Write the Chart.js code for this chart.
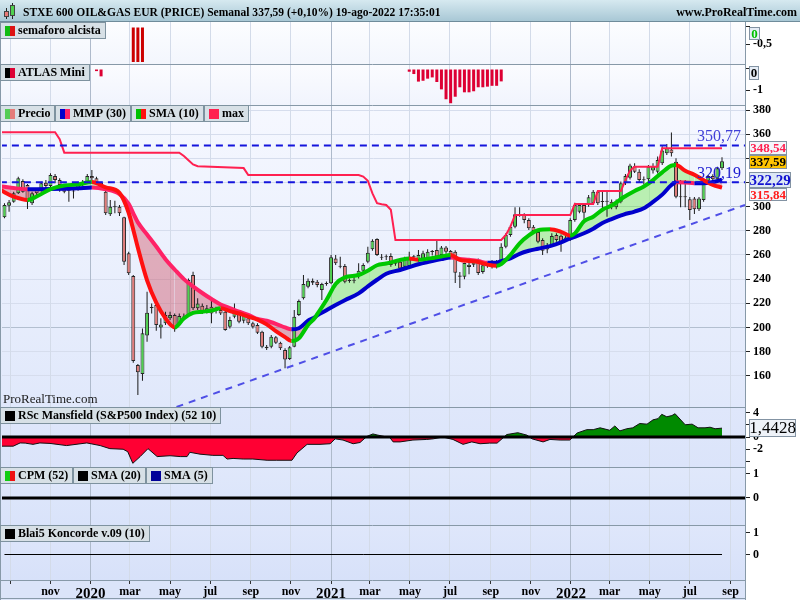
<!DOCTYPE html>
<html><head><meta charset="utf-8">
<script src="https://cdn.jsdelivr.net/npm/chart.js@4.4.1/dist/chart.umd.min.js"></script>
<style>html,body{margin:0;padding:0;background:#fff;}canvas{display:block;}</style>
</head><body>
<canvas id="c" width="800" height="600"></canvas>
<script>
// ---------- DATA (weekly candles, index 0 = week of 2019-08-23) ----------
const startDate = '2019-08-23';
const opens = [
291.2,300.9,304.2,311.1,321.3,318.0,302.8,313.8,313.8,319.9,
317.2,325.4,322.1,315.2,314.4,313.3,314.4,318.0,320.7,325.4,
323.5,319.9,312.5,293.7,299.5,300.0,291.2,261.4,242.6,168.8,
161.4,193.4,216.5,218.6,200.0,203.4,207.5,210.3,203.4,208.9,
210.3,243.4,215.8,218.0,213.0,217.2,214.4,214.4,213.0,200.6,
208.9,211.6,205.6,207.5,203.4,202.0,196.5,184.0,184.0,191.8,
187.3,181.3,173.8,184.0,210.3,224.1,233.7,238.7,237.9,231.0,
236.5,236.5,257.2,250.9,250.9,238.7,238.7,243.4,247.0,254.5,
264.7,273.2,258.1,258.1,259.2,253.1,254.5,250.3,250.9,258.1,
255.8,257.2,256.4,262.7,264.1,260.0,266.3,263.3,262.7,243.0,
242.0,250.0,252.0,255.9,246.0,251.0,254.5,250.3,254.5,266.9,
276.6,283.5,293.1,293.1,289.0,283.5,279.0,272.4,268.0,268.3,
276.6,276.0,274.6,272.5,289.0,295.9,301.4,301.4,302.8,312.5,
304.2,304.2,304.2,299.5,304.2,319.4,324.0,333.5,329.0,322.0,
322.7,330.0,329.0,336.0,344.2,347.5,337.3,308.3,307.8,306.1,
306.9,297.8,305.6,321.6,325.4,322.7,331.8];
const highs = [
302.8,305.6,312.5,324.9,322.7,318.8,312.5,315.2,320.7,322.1,
327.7,327.1,323.5,316.6,316.6,315.2,320.7,322.1,327.1,330.4,
324.9,320.7,313.3,305.6,305.0,301.4,291.7,262.7,243.4,169.7,
199.2,229.6,219.9,222.7,207.5,213.0,213.0,211.6,211.6,211.6,
240.6,246.2,224.1,219.9,218.6,222.7,217.2,215.8,214.4,208.9,
219.9,213.0,213.0,208.9,204.7,203.4,197.3,185.4,193.7,192.9,
188.2,182.7,184.6,214.4,223.2,243.4,240.6,240.6,239.3,237.1,
238.0,260.0,260.0,258.6,252.5,240.5,242.0,253.1,253.1,266.9,
273.0,273.8,260.8,260.5,261.4,255.8,255.8,258.6,262.7,260.0,
264.1,263.6,264.7,264.1,271.6,267.4,267.4,264.1,264.0,246.0,
253.5,254.0,256.0,257.0,253.0,254.0,255.8,255.8,269.7,278.0,
284.8,299.5,299.5,294.5,290.4,284.8,280.5,273.8,270.0,278.0,
278.0,277.0,276.0,290.4,303.3,302.8,302.8,309.7,313.9,313.9,
312.5,312.5,306.0,306.0,320.8,327.1,335.5,336.0,331.0,325.0,
334.6,336.0,341.5,350.0,352.0,361.4,340.1,322.1,322.1,308.0,
308.0,308.0,323.5,326.3,327.0,333.2,340.9];
const lows = [
290.4,295.9,303.3,310.5,311.6,298.1,301.4,308.3,312.5,315.2,
316.1,319.4,312.5,311.1,304.2,306.9,313.3,317.2,319.9,322.1,
318.0,313.8,293.1,292.3,294.5,292.3,251.7,243.4,170.8,144.0,
155.9,188.2,211.6,197.3,190.9,202.0,206.1,196.5,202.0,206.1,
208.9,214.4,214.4,211.1,211.6,203.4,211.6,210.3,197.3,199.2,
207.5,203.4,203.4,202.0,199.2,194.5,182.7,181.3,182.7,186.2,
181.3,166.1,173.0,183.5,209.4,223.2,232.4,235.1,233.2,222.7,
234.5,236.0,251.7,249.0,236.5,237.0,236.5,240.6,246.2,253.1,
263.6,259.2,255.8,255.8,250.3,251.0,247.6,248.9,249.8,255.8,
254.5,256.0,255.5,259.5,257.5,258.6,261.0,256.5,236.8,232.7,
240.0,244.0,250.0,243.5,244.5,249.5,248.9,248.9,253.1,265.5,
275.2,282.1,291.7,286.2,280.7,278.0,269.7,260.0,261.4,266.9,
271.0,262.7,271.0,271.5,287.6,294.5,286.2,300.0,301.4,301.4,
295.9,291.7,298.0,298.0,302.8,318.0,322.5,328.0,320.5,318.5,
321.0,327.5,327.5,334.6,342.8,341.5,307.0,299.5,299.5,289.0,
294.0,296.5,304.2,319.4,319.4,321.6,330.4];
const closes = [
301.4,303.6,311.1,323.5,312.5,304.2,311.1,311.1,319.4,317.2,
326.3,322.1,318.0,312.5,313.3,312.7,319.4,320.7,325.4,323.5,
319.4,316.6,294.5,300.0,300.3,294.5,254.5,244.8,172.1,162.8,
195.1,212.2,216.0,202.0,202.5,210.3,210.3,199.2,209.4,208.3,
239.3,215.8,219.9,213.0,215.8,211.6,213.9,211.6,197.8,206.1,
213.0,204.7,210.3,203.4,200.6,195.6,184.0,182.7,192.3,187.3,
182.7,173.5,183.5,208.9,221.9,236.0,238.7,237.1,235.1,236.0,
236.0,258.1,253.1,250.3,237.9,238.4,239.0,247.0,251.7,261.9,
271.9,260.0,257.8,258.4,251.7,252.8,248.9,255.8,256.4,258.6,
260.0,261.4,262.7,262.5,258.6,266.3,262.7,258.1,245.3,242.0,
253.4,252.0,254.0,245.0,251.5,252.5,250.3,253.6,266.9,276.6,
283.5,293.7,293.5,289.0,282.1,279.9,271.0,263.6,264.5,275.7,
272.4,270.0,272.4,289.0,301.4,301.4,295.1,307.8,312.5,302.8,
303.9,304.5,299.5,304.2,319.4,325.4,334.2,329.0,322.1,322.7,
333.2,333.2,338.7,346.5,348.54,344.2,308.3,307.8,308.1,297.3,
297.8,306.9,322.1,325.4,322.7,331.8,337.59];

// moving averages
const maIdx = [-1,0,2,5,7,10,13,16,19,22,25,27,28,29,31,33,35,37,39,41,43,45,47,49,51,53,55,57,59,61,62.4,64,66,67.5,68,70,72,74,77,79,81,83,86,88,90,92.5,95,97,99,101,103,105,107,108,110,112,114,116,118.6,121,123,124,126,128,130,132,134.6,137,139,141,143,145,146,148,150,152,154,156];
const sma10 = [314.4,312,308.3,305.6,308.5,314.5,317.5,318.5,320.5,316,311.5,295,281,266,239,220.5,207.5,200,207.5,212,213,214,215.8,213.5,211.5,209,206.5,202.5,197,192,188.7,191,202,208,211,222.7,236,241.5,243.4,247,251.5,253,255.8,257.2,256,257.2,258.8,260,256,255,254.2,252,251,252.5,260,269.7,276.3,280.5,281.3,279.2,276,277.9,288,291.7,297.5,301,307.8,313,316.8,322.1,328.5,334,334.6,329.8,326.5,322,318,315.84];
const mmp30 = [317,316.5,315.5,314.5,314.5,314.6,314.8,315.2,316,314.5,310.5,302.5,294.5,287,277,267,256.5,248,240,234,228.5,223.5,219,216,213,210.5,207,205.5,203,200,198.4,199.3,205.5,208.5,210,214.2,218.5,222.5,228.2,234,239.5,244.5,247.6,250,252.3,254.5,256.6,258,256.8,256,255,253.5,253.5,255,257.2,261,263.5,265.2,267.4,270.4,273.8,275,278,281.8,286.5,289.8,293.5,296,298.8,304,310,318,320.2,320,319.5,319.5,320.5,322.29];

// "max" line
const maxIdx = [-1,11,12,13,38,39,40,41,42,52,53,77,78,79,80,81,82,83,84,85,108,109,110,111,123,124,128,129,134,135,136,137,142,143,156];
const maxVals = [361.7,361.7,356,344.8,344.8,342,338.5,335,333.5,332,326.3,326.3,325,321.5,311,303,302,301.4,297.5,272.4,272.4,276.6,283.5,293.1,293.1,302.2,302.2,313,313,322,330,333.2,333.2,348.54,348.54];

const levels = [350.77, 320.19];
const trendIdx = [37.4, 161];
const trendVals = [134.1, 301.4];

const semaforoIdx = [28, 29, 30];
const semaforoVals = [-1.03, -1.03, -1.03];

const atlasIdx = [20,21,88,89,90,91,92,93,94,95,96,97,98,99,100,101,102,103,104,105,106,107,108];
const atlasVals = [-0.1,-0.35,-0.13,-0.24,-0.6,-0.56,-0.46,-0.4,-0.62,-0.97,-1.44,-1.63,-1.32,-0.87,-1.11,-1.11,-1.06,-0.87,-0.87,-0.84,-0.8,-0.8,-0.59];

const rscIdx = [-1,1.9,3.4,4.5,6.2,7.7,9.9,13.5,17.9,20.8,22.9,25.8,26.8,27.9,29.5,31.2,33.2,36,38.2,39.7,40.3,42.5,45.3,47.5,48.4,49.7,51.9,54,57.1,59.2,62.5,63.6,65.8,68.6,70.8,71.9,73.6,75.8,77.3,78.8,80.1,81.2,83.8,84.5,86,88.8,91.8,93.2,95.3,97.5,99.7,101.6,103.4,105.5,107.1,109.2,111.6,113.6,114.7,117.1,118.6,120.8,122.9,124.5,126.6,128,129.5,131.6,132.7,133.8,135.3,136.6,138.1,139.7,141,142.1,142.9,144,145.1,145.8,148,149.5,150.8,152.3,153.4,154.5,156];
const rscVals = [-1.5,-1.5,-0.97,-1.0,-1.2,-0.97,-1.05,-1.4,-0.97,-1.4,-1.9,-2.0,-2.4,-4.3,-3.2,-1.9,-3.2,-3.06,-3.2,-3.2,-2.5,-2.8,-3.0,-3.0,-3.6,-3.5,-3.6,-3.6,-3.8,-3.8,-3.8,-2.6,-1.2,-1.2,-1.1,-0.3,-0.5,-1.1,-0.9,0.1,0.5,0.3,-0.1,-0.8,-0.8,-0.5,-0.4,-0.3,0,-0.4,-1.2,-0.8,-1.1,-1.0,-1.0,0.4,0.7,0.3,-0.3,-0.8,-0.4,-0.5,-0.5,0.65,1.2,1.2,1.5,1.1,1.8,1.0,1.35,1.5,2.2,2.1,2.8,3.0,3.7,3.3,3.5,3.8,2.0,2.1,1.5,1.5,1.6,1.35,1.4428];

const cpmIdx = [-1, 162];
const cpmVals = [0, 0];
const konIdx = [0, 156];
const konVals = [0, 0];

const monthTicks = ['2019-09-01','2019-11-01','2020-01-01','2020-03-01','2020-05-01','2020-07-01','2020-09-01','2020-11-01','2021-01-01','2021-03-01','2021-05-01','2021-07-01','2021-09-01','2021-11-01','2022-01-01','2022-03-01','2022-05-01','2022-07-01','2022-09-01'];
const monthLabels = ['','nov','2020','mar','may','jul','sep','nov','2021','mar','may','jul','sep','nov','2022','mar','may','jul','sep'];
const priceTicks = [160,180,200,220,240,260,280,300,320,340,360,380];

// ---------- BUILD ----------
const F = '"Liberation Serif","Times New Roman",serif';
const WEEK = 7 * 86400000;
const tickIdx = monthTicks.map(d => (Date.parse(d) - Date.parse(startDate)) / WEEK);
const isYear = i => /^\d{4}$/.test(monthLabels[i] || '');
const pts = (xs, ys) => xs.map((x, i) => ({x, y: ys[i]}));
const idxs = closes.map((_, i) => i);
const dir = (up, down) => c => (c.p1.parsed.y >= c.p0.parsed.y ? up : down);
const fmt = v => String(v).replace('.', ',');

const datasets = [
  {type:'bar', yAxisID:'price', data: idxs.map(i => ({x:i, y:[lows[i], highs[i]]})), backgroundColor:'#1a1a1a', borderWidth:0, maxBarThickness:1, grouped:false, order:20},
  {type:'bar', yAxisID:'price', data: idxs.map(i => ({x:i, y:[opens[i], closes[i]]})),
   backgroundColor: idxs.map(i => closes[i] >= opens[i] ? '#4fd14f' : '#e27c7a'),
   borderColor:'#262626', borderWidth:1, borderSkipped:false, minBarLength:1, maxBarThickness:4,
   barPercentage:0.9, categoryPercentage:0.95, grouped:false, order:19},
  {type:'line', yAxisID:'price', data: pts(maIdx, mmp30), borderColor:'#0000cc', borderWidth:4, pointRadius:0,
   cubicInterpolationMode:'monotone', segment:{borderColor: dir('#0000cc', '#ff2266')}, fill:false, order:5},
  {type:'line', yAxisID:'price', data: pts(maIdx, sma10), borderColor:'#00c800', borderWidth:4, pointRadius:0,
   cubicInterpolationMode:'monotone', segment:{borderColor: dir('#00c800', '#ff1010')},
   fill:{target:2, above:'rgba(140,235,115,0.55)', below:'rgba(205,60,80,0.38)'}, order:4},
  {type:'line', yAxisID:'price', data: pts(maxIdx, maxVals), borderColor:'#ff2050', borderWidth:2, pointRadius:0, tension:0, fill:false, order:6},
  ...levels.map(L => ({type:'line', yAxisID:'price', data:[{x:-1, y:L}, {x:162, y:L}], borderColor:'#1414dc', borderWidth:2, borderDash:[7,5], pointRadius:0, fill:false, order:3})),
  {type:'line', yAxisID:'price', data: pts(trendIdx, trendVals), borderColor:'#4f4fe6', borderWidth:2, borderDash:[7,6], pointRadius:0, fill:false, order:3},
  {type:'bar', yAxisID:'p1', data: pts(semaforoIdx, semaforoVals), backgroundColor:'#cc0000', maxBarThickness:3, grouped:false, order:10},
  {type:'bar', yAxisID:'p2', data: pts(atlasIdx, atlasVals), backgroundColor:'#dd0033', maxBarThickness:3, grouped:false, order:10},
  {type:'line', yAxisID:'rsc', data: pts(rscIdx, rscVals), borderColor:'#111', borderWidth:1, pointRadius:0, tension:0,
   fill:{target:{value:0}, above:'#008a00', below:'#ff0033'}, order:8},
  {type:'line', yAxisID:'rsc', data:[{x:-1,y:0},{x:162,y:0}], borderColor:'#000', borderWidth:3, pointRadius:0, fill:false, order:7},
  {type:'line', yAxisID:'cpm', data: pts(cpmIdx, cpmVals), borderColor:'#000', borderWidth:3, pointRadius:0, fill:false, order:7},
  {type:'line', yAxisID:'kon', data: pts(konIdx, konVals), borderColor:'#000', borderWidth:1, pointRadius:0, fill:false, order:7}
];

const tickFont = {family:F, weight:'bold', size:12};
function yAxis(weight, min, max, ticks, labels, gridOn, gridColor) {
  return {
    type:'linear', axis:'y', position:'right', stack:'panels', stackWeight:weight, min, max,
    afterBuildTicks: s => { s.ticks = ticks.map(v => ({value:v})); },
    afterFit: s => { s.width = 55; },
    ticks:{font:tickFont, color:'#000', padding:3, autoSkip:false, callback:(v, i) => labels[i]},
    grid:{drawOnChartArea:gridOn, color:gridColor || '#d5dcea', tickLength:5, tickColor:'#222', lineWidth:1},
    border:{color:'#8a9aa8', width:1}
  };
}

const deco = {
  id:'deco',
  beforeDraw(chart) {
    const {ctx, chartArea:ca, scales} = chart;
    ctx.save();
    ctx.fillStyle = '#fff'; ctx.fillRect(0, 0, 800, 600);
    const hg = ctx.createLinearGradient(0, 0, 0, 22);
    hg.addColorStop(0, '#d6e9f0'); hg.addColorStop(1, '#a6c6d4');
    ctx.fillStyle = hg; ctx.fillRect(0, 0, 800, 22);
    const bgs = {p1:['#fcfdff','#f3f6fd'], p2:['#fbfcff','#f1f4fd'], price:['#f6f8ff','#e0e8fb'],
                 rsc:['#dfe7fb','#dbe4fa'], cpm:['#e0e8fb','#d9e3fa'], kon:['#dfe7fb','#d7e1f9']};
    for (const id in bgs) {
      const s = scales[id];
      const g = ctx.createLinearGradient(0, s.top, 0, s.bottom);
      g.addColorStop(0, bgs[id][0]); g.addColorStop(1, bgs[id][1]);
      ctx.fillStyle = g; ctx.fillRect(0, s.top, ca.right, s.bottom - s.top);
    }
    ctx.fillStyle = '#dbe4f9'; ctx.fillRect(0, ca.bottom, ca.right, 600 - ca.bottom);
    ctx.restore();
  },
  afterDraw(chart) {
    const {ctx, chartArea:ca, scales} = chart;
    ctx.save();
    const hline = (x1, x2, y, c, w) => { ctx.strokeStyle = c; ctx.lineWidth = w || 1; ctx.beginPath(); ctx.moveTo(x1, y); ctx.lineTo(x2, y); ctx.stroke(); };
    const vline = (x, y1, y2, c) => { ctx.strokeStyle = c; ctx.lineWidth = 1; ctx.beginPath(); ctx.moveTo(x, y1); ctx.lineTo(x, y2); ctx.stroke(); };
    // separators & frame
    ['p1','p2','price','rsc','cpm'].forEach(id => hline(0, ca.right, Math.round(scales[id].bottom) + 0.5, '#8799a8'));
    hline(0, ca.right, Math.round(ca.bottom) + 0.5, '#8799a8');
    hline(0, 800, 21.5, '#6f8c9b');
    vline(Math.round(ca.right) + 0.5, 22, 600, '#8799a8');
    vline(0.5, 22, 600, '#8799a8');
    hline(0, ca.right, 598.5, '#8799a8');

    // header (title fitted to the reference width)
    const title = 'STXE 600 OIL&GAS EUR (PRICE) Semanal 337,59 (+0,10%) 19-ago-2022 17:35:01';
    ctx.font = 'bold 13px ' + F;
    const tsize = 13 * 418 / ctx.measureText(title).width;
    ctx.fillStyle = '#000'; ctx.textBaseline = 'alphabetic'; ctx.textAlign = 'left';
    ctx.font = 'bold ' + tsize.toFixed(2) + 'px ' + F;
    ctx.fillText(title, 23, 16);
    ctx.font = 'bold 12px ' + F; ctx.textAlign = 'right';
    ctx.fillText('www.ProRealTime.com', 797, 16);
    // header candle icon
    ctx.fillStyle = '#222';
    ctx.fillRect(6, 8, 1, 11); ctx.fillRect(12, 3, 1, 16);
    ctx.fillStyle = '#e87a78'; ctx.fillRect(4, 11, 5, 6); ctx.strokeStyle = '#444'; ctx.lineWidth = 1; ctx.strokeRect(4.5, 11.5, 4, 5);
    ctx.fillStyle = '#4fd14f'; ctx.fillRect(10, 5, 5, 11); ctx.strokeRect(10.5, 5.5, 4, 10);

    // legend boxes
    const legend = (x, y, items) => {
      ctx.font = 'bold 12px ' + F; ctx.textAlign = 'left'; ctx.textBaseline = 'middle';
      for (const it of items) {
        const w = Math.round(18 + ctx.measureText(it.t).width + 5);
        ctx.fillStyle = '#d7e0e6'; ctx.fillRect(x, y, w, 17);
        ctx.strokeStyle = '#7e929f'; ctx.lineWidth = 1; ctx.strokeRect(x + 0.5, y + 0.5, w - 1, 16);
        ctx.fillStyle = it.c[0]; ctx.fillRect(x + 5, y + 4, 5, 10);
        ctx.fillStyle = it.c[1]; ctx.fillRect(x + 10, y + 4, 5, 10);
        ctx.fillStyle = '#000'; ctx.fillText(it.t, x + 18, y + 9);
        x += w;
      }
    };
    legend(0, Math.round(scales.p1.top), [{t:'semaforo alcista', c:['#11bb11','#dd1111']}]);
    legend(0, Math.round(scales.p2.top), [{t:'ATLAS Mini', c:['#000000','#dd0033']}]);
    legend(0, Math.round(scales.price.top), [
      {t:'Precio', c:['#55cc55','#e47c7a']}, {t:'MMP (30)', c:['#0000cc','#ff2266']},
      {t:'SMA (10)', c:['#00c000','#ff1010']}, {t:'max', c:['#ff2050','#ff2050']}]);
    legend(0, Math.round(scales.rsc.top), [{t:'RSc Mansfield (S&P500 Index) (52 10)', c:['#000','#000']}]);
    legend(0, Math.round(scales.cpm.top), [{t:'CPM (52)', c:['#11cc11','#ee1111']}, {t:'SMA (20)', c:['#000','#000']}, {t:'SMA (5)', c:['#000099','#000099']}]);
    legend(0, Math.round(scales.kon.top), [{t:'Blai5 Koncorde v.09 (10)', c:['#000','#000']}]);

    // watermark
    ctx.font = '13px ' + F; ctx.fillStyle = '#1a1a1a'; ctx.textBaseline = 'alphabetic'; ctx.textAlign = 'left';
    ctx.fillText('ProRealTime.com', 3, Math.round(scales.price.bottom) - 4);

    // level texts
    ctx.font = '16px ' + F; ctx.textAlign = 'right';
    ctx.fillStyle = '#4040d8';
    ctx.fillText(fmt(levels[0]), 741, scales.price.getPixelForValue(levels[0]) - 4);
    ctx.fillStyle = '#1c1cd0';
    ctx.fillText(fmt(levels[1]), 741, scales.price.getPixelForValue(levels[1]) - 4);

    // value boxes
    const vbox = (x, y, w, h, text, color, bg, font) => {
      ctx.fillStyle = bg; ctx.fillRect(x, y, w, h);
      ctx.strokeStyle = '#8393a3'; ctx.lineWidth = 1; ctx.strokeRect(x + 0.5, y + 0.5, w - 1, h - 1);
      ctx.font = font; ctx.fillStyle = color; ctx.textAlign = 'center'; ctx.textBaseline = 'middle';
      ctx.fillText(text, x + w / 2, y + h / 2 + 1);
    };
    const bx = Math.round(ca.right) + 4;
    vbox(bx, Math.round(scales.p1.getPixelForValue(0)), 11, 13, '0', '#00c000', '#e6edf6', 'bold 13px ' + F);
    vbox(bx, Math.round(scales.p2.getPixelForValue(0)) - 3, 10, 14, '0', '#000', '#e6edf6', 'bold 13px ' + F);
    const ps = scales.price;
    const boxes = [
      {v: maxVals[maxVals.length - 1], h:14, w:38, c:'#ff2050', bg:'#f4f6fb', f:'bold 13px ' + F},
      {v: closes[closes.length - 1], h:14, w:38, c:'#000', bg:'#ffc400', f:'bold 13px ' + F},
      {v: mmp30[mmp30.length - 1], h:16, w:42, c:'#1010d0', bg:'#dde8f5', f:'bold 15px ' + F},
      {v: sma10[sma10.length - 1], h:13, w:38, c:'#ff1a1a', bg:'#f4f6fb', f:'bold 13px ' + F}
    ].map(b => ({...b, y: ps.getPixelForValue(b.v) - b.h / 2})).sort((a, b) => a.y - b.y);
    let last = -1e9;
    boxes.forEach(b => { if (b.y < last) b.y = last; last = b.y + b.h; });
    boxes.forEach(b => vbox(bx, Math.round(b.y), b.w, b.h, b.v.toFixed(2).replace('.', ','), b.c, b.bg, b.f));
    const rv = rscVals[rscVals.length - 1];
    vbox(bx, Math.round(scales.rsc.getPixelForValue(rv)) - 9, 47, 18, fmt(rv), '#000', '#eef2f8', '17px ' + F);
    ctx.restore();
  }
};

new Chart(document.getElementById('c'), {
  type:'bar',
  data:{datasets},
  options:{
    responsive:false, animation:false, devicePixelRatio:1,
    layout:{padding:{top:22, left:2, right:0, bottom:0}},
    plugins:{legend:{display:false}, tooltip:{enabled:false}, filler:{drawTime:'beforeDatasetsDraw', propagate:false}},
    scales:{
      p1: yAxis(42, -1.088, 0.147, [0, -0.5], ['', '-0,5'], false),
      p2: yAxis(41, -1.714, 0.238, [0, -1], ['', '-1'], false),
      price: yAxis(302, 134.07, 384.27, priceTicks, priceTicks.map(String), true,
        c => (c.tick && c.tick.value % 100 === 0) ? '#b3bfd0' : '#d6dded'),
      rsc: yAxis(60, -4.9, 4.9, [4, 2, 0, -2, -4], ['4', '', '0', '-2', ''], false),
      cpm: yAxis(58, -1.125, 1.29, [1, 0], ['1', '0'], false),
      kon: yAxis(55, -1.159, 1.341, [1, 0], ['1', '0'], false),
      x:{
        type:'linear', axis:'x', position:'bottom', min:-0.54, max:161.0, offset:false,
        afterBuildTicks: s => { s.ticks = tickIdx.map(v => ({value:v})); },
        afterFit: s => { s.height = 20; },
        ticks:{autoSkip:false, maxRotation:0, padding:1, color:'#000',
          font: c => ({family:F, weight:'bold', size: isYear(c.index) ? 15 : 12}),
          callback:(v, i) => monthLabels[i]},
        grid:{offset:false, color: c => isYear(c.index) ? '#aebacb' : '#d3dbe9', tickLength:4, tickColor:'#333', drawOnChartArea:true},
        border:{display:false}
      }
    }
  },
  plugins:[deco]
});
</script>
</body></html>
